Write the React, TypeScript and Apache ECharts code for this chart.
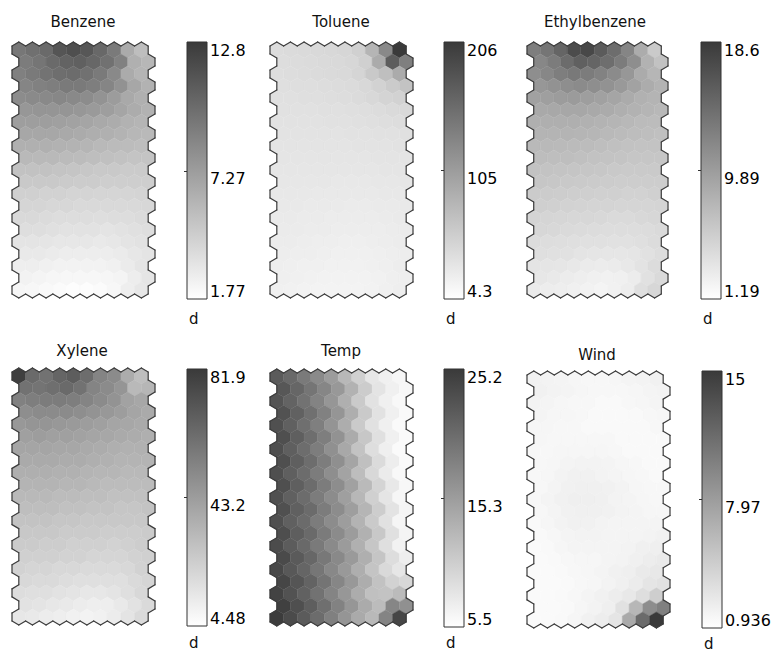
import React, { useEffect, useRef } from "react";
import * as echarts from "echarts";

// ---------- data (SOM component planes, 21 rows x 10 columns, hexagonal lattice) ----------
const titles = ["Benzene", "Toluene", "Ethylbenzene", "Xylene", "Temp", "Wind"];

const benzeneTicks = [1.77, 7.27, 12.8];
const tolueneTicks = [4.3, 105, 206];
const ethylTicks = [1.19, 9.89, 18.6];
const xyleneTicks = [4.48, 43.2, 81.9];
const tempTicks = [5.5, 15.3, 25.2];
const windTicks = [0.936, 7.97, 15];

const benzene = [
  [9.4, 9.8, 10.1, 11.3, 11.6, 11.2, 10.2, 9.2, 6.5, 5.4],
  [9.1, 9.5, 10.1, 10.5, 10.7, 10.3, 9.7, 8.8, 6.2, 5.8],
  [8.9, 9.2, 9.6, 9.9, 10.0, 9.7, 9.2, 8.4, 6.5, 5.9],
  [8.6, 8.8, 9.0, 9.2, 9.2, 9.0, 8.6, 7.9, 6.7, 6.1],
  [8.2, 8.3, 8.4, 8.5, 8.4, 8.2, 7.8, 7.3, 6.6, 6.2],
  [7.6, 7.7, 7.7, 7.7, 7.6, 7.4, 7.2, 6.8, 6.4, 6.1],
  [7.2, 7.2, 7.2, 7.1, 7.0, 6.8, 6.6, 6.4, 6.1, 5.9],
  [6.7, 6.7, 6.7, 6.6, 6.5, 6.3, 6.2, 6.0, 5.8, 5.7],
  [6.2, 6.2, 6.2, 6.1, 6.0, 5.9, 5.7, 5.6, 5.5, 5.4],
  [5.7, 5.7, 5.7, 5.6, 5.5, 5.4, 5.3, 5.2, 5.1, 5.1],
  [5.2, 5.2, 5.2, 5.1, 5.0, 4.9, 4.8, 4.8, 4.7, 4.7],
  [4.8, 4.8, 4.8, 4.7, 4.6, 4.6, 4.5, 4.5, 4.5, 4.5],
  [4.4, 4.4, 4.3, 4.3, 4.2, 4.2, 4.1, 4.1, 4.1, 4.2],
  [4.1, 4.1, 4.0, 4.0, 3.9, 3.9, 3.9, 3.9, 3.9, 4.0],
  [3.9, 3.9, 3.8, 3.7, 3.7, 3.7, 3.6, 3.7, 3.7, 3.8],
  [3.6, 3.6, 3.5, 3.4, 3.4, 3.4, 3.3, 3.4, 3.5, 3.6],
  [3.3, 3.3, 3.2, 3.1, 3.1, 3.1, 3.0, 3.1, 3.3, 3.4],
  [3.0, 3.0, 2.9, 2.8, 2.8, 2.8, 2.8, 2.9, 3.1, 3.3],
  [2.7, 2.7, 2.6, 2.5, 2.5, 2.5, 2.5, 2.6, 2.9, 3.2],
  [2.5, 2.4, 2.3, 2.2, 2.2, 2.2, 2.3, 2.4, 2.8, 3.2],
  [2.3, 2.2, 2.1, 2.0, 1.9, 1.9, 2.0, 2.2, 2.7, 3.1],
];

const toluene = [
  [40, 41, 42, 43, 44, 46, 52, 80, 125, 206],
  [39, 40, 41, 42, 43, 45, 52, 90, 170, 135],
  [38, 39, 40, 41, 42, 43, 47, 60, 70, 90],
  [37, 38, 38, 39, 40, 41, 44, 50, 58, 66],
  [36, 36, 37, 37, 38, 39, 41, 44, 48, 50],
  [35, 35, 35, 36, 36, 37, 38, 40, 42, 43],
  [34, 34, 34, 34, 35, 35, 36, 37, 38, 39],
  [33, 33, 33, 33, 33, 34, 34, 35, 35, 36],
  [32, 32, 32, 32, 32, 32, 33, 33, 33, 34],
  [31, 31, 31, 31, 31, 31, 31, 32, 32, 32],
  [30, 30, 30, 30, 30, 30, 30, 30, 31, 31],
  [29, 29, 29, 29, 28, 28, 28, 29, 29, 30],
  [28, 28, 28, 27, 27, 27, 27, 27, 28, 28],
  [27, 27, 26, 26, 26, 25, 25, 26, 26, 27],
  [26, 26, 25, 25, 24, 24, 24, 24, 25, 26],
  [25, 25, 24, 24, 23, 23, 23, 23, 24, 25],
  [24, 24, 23, 22, 22, 21, 21, 22, 23, 24],
  [23, 22, 22, 21, 20, 20, 20, 21, 22, 23],
  [22, 21, 20, 20, 19, 19, 19, 20, 21, 23],
  [21, 20, 19, 18, 18, 18, 18, 19, 21, 22],
  [20, 19, 18, 17, 17, 17, 17, 18, 20, 22],
];

const ethylbenzene = [
  [12.6, 13.4, 14.8, 17.0, 17.4, 15.7, 14.1, 12.0, 8.5, 5.9],
  [11.8, 12.8, 14.2, 15.2, 14.8, 14.0, 12.8, 11.2, 8.0, 6.6],
  [11.2, 11.8, 12.6, 13.0, 12.8, 12.2, 11.4, 10.4, 8.6, 7.6],
  [10.4, 10.8, 11.2, 11.4, 11.2, 10.8, 10.2, 9.4, 8.5, 7.9],
  [9.5, 9.7, 9.9, 10.0, 9.8, 9.5, 9.1, 8.6, 8.1, 7.8],
  [8.8, 8.9, 9.0, 9.0, 8.8, 8.6, 8.3, 8.0, 7.7, 7.5],
  [8.3, 8.3, 8.3, 8.3, 8.1, 7.9, 7.7, 7.5, 7.2, 7.1],
  [7.8, 7.8, 7.8, 7.7, 7.6, 7.4, 7.2, 7.0, 6.9, 6.8],
  [7.4, 7.4, 7.3, 7.2, 7.1, 6.9, 6.8, 6.6, 6.5, 6.5],
  [7.0, 6.9, 6.9, 6.8, 6.6, 6.5, 6.4, 6.2, 6.2, 6.2],
  [6.6, 6.5, 6.4, 6.3, 6.2, 6.1, 6.0, 5.9, 5.9, 5.9],
  [6.2, 6.1, 6.0, 5.9, 5.8, 5.7, 5.6, 5.6, 5.6, 5.6],
  [5.8, 5.7, 5.6, 5.5, 5.4, 5.3, 5.3, 5.2, 5.2, 5.3],
  [5.4, 5.3, 5.2, 5.1, 5.0, 5.0, 4.9, 4.9, 4.9, 5.0],
  [5.0, 4.9, 4.8, 4.7, 4.7, 4.6, 4.5, 4.5, 4.6, 4.7],
  [4.7, 4.6, 4.5, 4.4, 4.3, 4.2, 4.2, 4.2, 4.3, 4.5],
  [4.3, 4.2, 4.1, 4.0, 3.9, 3.9, 3.8, 3.8, 4.0, 4.3],
  [4.0, 3.9, 3.8, 3.6, 3.5, 3.4, 3.4, 3.5, 3.8, 4.2],
  [3.6, 3.5, 3.4, 3.2, 3.0, 2.9, 3.0, 3.2, 3.7, 4.3],
  [3.3, 3.1, 2.9, 2.7, 2.5, 2.4, 2.5, 2.9, 3.8, 4.5],
  [3.0, 2.8, 2.7, 2.5, 2.3, 2.2, 2.4, 2.8, 4.0, 4.7],
];

const xylene = [
  [80, 63, 60, 65, 68, 62, 53, 50, 37, 30],
  [60, 59, 61, 63, 60, 53, 50, 46, 32, 33],
  [54, 55, 56, 56, 55, 53, 50, 47, 41, 39],
  [49, 50, 50, 50, 49, 47, 45, 43, 40, 38],
  [45, 46, 46, 45, 44, 43, 42, 40, 39, 38],
  [42, 43, 42, 42, 41, 40, 39, 38, 37, 36],
  [40, 40, 40, 39, 39, 38, 37, 36, 35, 35],
  [38, 38, 38, 37, 37, 36, 35, 34, 34, 34],
  [36, 36, 36, 35, 35, 34, 33, 33, 32, 32],
  [34, 34, 34, 33, 33, 32, 31, 31, 31, 31],
  [32, 32, 32, 31, 31, 30, 30, 29, 29, 29],
  [30, 30, 30, 29, 29, 28, 28, 27, 27, 28],
  [28, 28, 28, 27, 27, 26, 26, 26, 26, 26],
  [26, 26, 26, 25, 25, 25, 24, 24, 24, 25],
  [25, 25, 24, 24, 23, 23, 23, 22, 23, 24],
  [23, 23, 23, 22, 22, 21, 21, 21, 22, 23],
  [22, 21, 21, 20, 20, 19, 19, 19, 20, 22],
  [20, 19, 19, 18, 17, 17, 17, 17, 19, 21],
  [18, 17, 17, 16, 15, 14, 14, 15, 17, 20],
  [16, 15, 14, 13, 12, 11, 11, 13, 16, 19],
  [14, 13, 12, 11, 10, 9, 10, 12, 15, 19],
];

const temp = [
  [21.9, 20.5, 18.8, 17.2, 15.4, 12.6, 10.2, 8.0, 7.0, 6.4],
  [22.3, 20.8, 19.3, 17.6, 15.8, 13.2, 10.6, 8.2, 7.0, 6.3],
  [22.6, 21.1, 19.6, 17.9, 16.0, 13.5, 10.8, 8.4, 7.0, 6.2],
  [22.8, 21.3, 19.8, 18.1, 16.1, 13.6, 10.8, 8.4, 7.0, 6.1],
  [23.0, 21.4, 19.9, 18.3, 16.2, 13.7, 10.8, 8.5, 7.0, 6.0],
  [23.1, 21.5, 20.0, 18.4, 16.4, 13.9, 11.1, 8.6, 7.0, 6.0],
  [23.1, 21.5, 20.1, 18.5, 16.6, 14.2, 11.5, 8.8, 7.1, 6.0],
  [23.1, 21.5, 20.1, 18.5, 16.7, 14.5, 11.8, 9.1, 7.3, 6.1],
  [23.1, 21.5, 20.2, 18.6, 16.8, 14.7, 12.1, 9.4, 7.5, 6.2],
  [23.1, 21.5, 20.2, 18.6, 16.9, 14.9, 12.4, 9.8, 7.8, 6.3],
  [23.0, 21.4, 20.2, 18.6, 17.0, 15.1, 12.7, 10.2, 8.1, 6.4],
  [23.0, 21.4, 20.3, 18.6, 17.0, 15.2, 12.9, 10.5, 8.3, 6.5],
  [23.0, 21.4, 20.3, 18.6, 17.0, 15.3, 13.1, 10.8, 8.5, 6.5],
  [23.2, 21.6, 20.4, 18.7, 17.1, 15.4, 13.3, 11.0, 8.6, 6.6],
  [23.4, 21.8, 20.5, 18.8, 17.2, 15.5, 13.4, 11.2, 8.7, 6.8],
  [23.6, 22.0, 20.7, 19.0, 17.3, 15.6, 13.5, 11.3, 8.9, 7.2],
  [23.8, 22.2, 20.9, 19.2, 17.4, 15.7, 13.6, 11.4, 9.3, 8.0],
  [24.0, 22.5, 21.1, 19.4, 17.6, 15.8, 13.7, 11.6, 10.0, 9.5],
  [24.3, 22.8, 21.3, 19.6, 17.8, 15.9, 13.8, 11.8, 11.5, 12.3],
  [24.6, 23.1, 21.6, 19.9, 18.0, 16.0, 13.9, 12.2, 17.6, 16.6],
  [25.0, 23.5, 21.9, 20.2, 18.2, 16.1, 14.0, 12.5, 17.8, 24.0],
];

const wind = [
  [1.9, 1.8, 1.7, 1.6, 1.5, 1.5, 1.6, 1.7, 1.8, 1.9],
  [1.9, 1.8, 1.7, 1.6, 1.5, 1.5, 1.5, 1.6, 1.7, 1.8],
  [1.8, 1.7, 1.6, 1.5, 1.5, 1.4, 1.4, 1.5, 1.6, 1.7],
  [1.7, 1.6, 1.6, 1.5, 1.4, 1.4, 1.4, 1.4, 1.5, 1.6],
  [1.6, 1.6, 1.5, 1.5, 1.4, 1.4, 1.4, 1.4, 1.4, 1.5],
  [1.6, 1.5, 1.5, 1.5, 1.5, 1.5, 1.4, 1.4, 1.4, 1.4],
  [1.5, 1.5, 1.6, 1.6, 1.6, 1.6, 1.5, 1.4, 1.4, 1.4],
  [1.5, 1.6, 1.7, 1.8, 1.8, 1.7, 1.6, 1.5, 1.4, 1.4],
  [1.5, 1.6, 1.8, 1.9, 1.9, 1.8, 1.7, 1.6, 1.5, 1.4],
  [1.5, 1.7, 1.9, 2.0, 2.0, 1.9, 1.8, 1.6, 1.5, 1.5],
  [1.5, 1.7, 1.9, 2.1, 2.1, 2.0, 1.8, 1.7, 1.6, 1.5],
  [1.5, 1.7, 1.9, 2.0, 2.0, 1.9, 1.8, 1.7, 1.6, 1.6],
  [1.4, 1.6, 1.8, 1.9, 1.9, 1.8, 1.7, 1.7, 1.7, 1.7],
  [1.4, 1.5, 1.7, 1.8, 1.8, 1.7, 1.7, 1.7, 1.8, 1.9],
  [1.3, 1.4, 1.6, 1.7, 1.7, 1.7, 1.7, 1.8, 2.0, 2.1],
  [1.3, 1.4, 1.5, 1.6, 1.6, 1.7, 1.8, 2.0, 2.2, 2.4],
  [1.3, 1.3, 1.4, 1.5, 1.6, 1.7, 1.9, 2.1, 2.4, 2.6],
  [1.3, 1.3, 1.4, 1.5, 1.6, 1.8, 2.0, 2.3, 2.8, 3.0],
  [1.3, 1.3, 1.4, 1.5, 1.7, 1.9, 2.2, 2.6, 3.3, 4.4],
  [1.3, 1.3, 1.4, 1.6, 1.8, 2.1, 3.1, 6.1, 9.1, 10.0],
  [1.3, 1.3, 1.4, 1.6, 1.9, 2.2, 2.8, 7.0, 11.5, 15.0],
];

const planes = [benzene, toluene, ethylbenzene, xylene, temp, wind];
const planeTicks = [benzeneTicks, tolueneTicks, ethylTicks, xyleneTicks, tempTicks, windTicks];

// ---------- layout ----------
const layouts = [
  { map: { left: 12, top: 42, width: 143, height: 256 }, bar: { left: 187, top: 42, width: 20, height: 257 }, title: [83, 22], d: [189, 311] },
  { map: { left: 270, top: 42, width: 143, height: 256 }, bar: { left: 444, top: 42, width: 20, height: 257 }, title: [341, 22], d: [446, 311] },
  { map: { left: 527, top: 42, width: 141, height: 256 }, bar: { left: 701, top: 42, width: 20, height: 257 }, title: [595, 22], d: [703, 311] },
  { map: { left: 12, top: 368, width: 143, height: 257 }, bar: { left: 187, top: 369, width: 20, height: 257 }, title: [82, 351], d: [189, 635] },
  { map: { left: 270, top: 369, width: 143, height: 257 }, bar: { left: 444, top: 369, width: 20, height: 258 }, title: [341, 351], d: [446, 635] },
  { map: { left: 527, top: 371, width: 143, height: 257 }, bar: { left: 702, top: 371, width: 20, height: 257 }, title: [597, 355], d: [704, 636] },
];

const ROWS = 21;
const COLS = 10;
const LOW = "#ffffff";
const HIGH = "#3a3a3a";
const FONT = "DejaVu Sans";

const VERTS: number[][] = [
  [0, -0.5],
  [0.5, -0.25],
  [0.5, 0.25],
  [0, 0.5],
  [-0.5, 0.25],
  [-0.5, -0.25],
];

function hexCenter(c: number, r: number) {
  return [c + 0.5 + (r % 2) * 0.5, 0.5 + 0.75 * r];
}

function neighbor(r: number, c: number, edge: number) {
  const odd = r % 2;
  switch (edge) {
    case 0: return [r - 1, c + odd];
    case 1: return [r, c + 1];
    case 2: return [r + 1, c + odd];
    case 3: return [r + 1, c - 1 + odd];
    case 4: return [r, c - 1];
    default: return [r - 1, c - 1 + odd];
  }
}

function inGrid(rc: number[]) {
  return rc[0] >= 0 && rc[0] < ROWS && rc[1] >= 0 && rc[1] < COLS;
}

function buildOption() {
  const grid: any[] = [];
  const xAxis: any[] = [];
  const yAxis: any[] = [];
  const series: any[] = [];
  const visualMap: any[] = [];
  const graphic: any[] = [];

  planes.forEach((plane, i) => {
    const L = layouts[i];
    const ticks = planeTicks[i];
    const min = ticks[0];
    const max = ticks[2];
    const cells: number[][] = [];
    plane.forEach((row, r) => row.forEach((v, c) => cells.push([c, r, v])));

    // map grid
    const gi = grid.length;
    grid.push({ ...L.map, containLabel: false, outerBoundsMode: "none", show: false });
    xAxis.push({ type: "value", gridIndex: gi, min: 0, max: 10.5, show: false });
    yAxis.push({ type: "value", gridIndex: gi, min: 0, max: 16, inverse: true, show: false });

    const hexIndex = series.length;
    series.push({
      type: "custom",
      xAxisIndex: gi,
      yAxisIndex: gi,
      dimensions: ["col", "row", "value"],
      encode: { x: 0, y: 1 },
      data: cells,
      silent: true,
      renderItem: (params: any, api: any) => {
        const c = api.value(0);
        const r = api.value(1);
        const [cx, cy] = hexCenter(c, r);
        const pts = VERTS.map(([dx, dy]) => api.coord([cx + dx, cy + dy]));
        const color = api.visual("color");
        return {
          type: "polygon",
          shape: { points: pts },
          style: { fill: color, stroke: color, lineWidth: 0.4 },
        };
      },
    });
    visualMap.push({
      type: "continuous",
      show: false,
      seriesIndex: hexIndex,
      dimension: 2,
      min,
      max,
      inRange: { color: [LOW, HIGH] },
    });

    // outline of the lattice
    series.push({
      type: "custom",
      xAxisIndex: gi,
      yAxisIndex: gi,
      dimensions: ["col", "row", "value"],
      encode: { x: 0, y: 1 },
      data: cells,
      silent: true,
      z: 5,
      renderItem: (params: any, api: any) => {
        const c = api.value(0);
        const r = api.value(1);
        const [cx, cy] = hexCenter(c, r);
        const children: any[] = [];
        for (let e = 0; e < 6; e++) {
          if (inGrid(neighbor(r, c, e))) continue;
          const a = VERTS[e];
          const b = VERTS[(e + 1) % 6];
          const p1 = api.coord([cx + a[0], cy + a[1]]);
          const p2 = api.coord([cx + b[0], cy + b[1]]);
          children.push({
            type: "line",
            shape: { x1: p1[0], y1: p1[1], x2: p2[0], y2: p2[1] },
            style: { stroke: "#3c3c3c", lineWidth: 1.2, lineCap: "round" },
          });
        }
        return { type: "group", children };
      },
    });

    // colour bar grid
    const bi = grid.length;
    grid.push({ ...L.bar, containLabel: false, outerBoundsMode: "none", show: false });
    xAxis.push({ type: "value", gridIndex: bi, min: 0, max: 1, show: false });
    yAxis.push({
      type: "value",
      gridIndex: bi,
      min,
      max,
      position: "right",
      axisLine: { show: false },
      splitLine: { show: false },
      axisTick: {
        show: true,
        inside: true,
        length: 3,
        customValues: [ticks[1]],
        lineStyle: { color: "#333", width: 1 },
      },
      axisLabel: {
        show: true,
        customValues: ticks,
        margin: 3,
        color: "#000",
        fontSize: 16,
        fontFamily: FONT,
        verticalAlign: "top",
        verticalAlignMinLabel: "bottom",
        verticalAlignMaxLabel: "top",
        formatter: (v: number) => {
          let best = ticks[0];
          ticks.forEach((t) => {
            if (Math.abs(t - v) < Math.abs(best - v)) best = t;
          });
          return String(best);
        },
      },
    });
    series.push({
      type: "custom",
      xAxisIndex: bi,
      yAxisIndex: bi,
      dimensions: ["x0", "x1", "lo", "hi"],
      encode: { x: [0, 1], y: [2, 3] },
      data: [[0, 1, min, max]],
      silent: true,
      renderItem: (params: any, api: any) => {
        const p0 = api.coord([api.value(0), api.value(3)]);
        const p1 = api.coord([api.value(1), api.value(2)]);
        return {
          type: "rect",
          shape: { x: p0[0], y: p0[1], width: p1[0] - p0[0], height: p1[1] - p0[1] },
          style: {
            fill: new echarts.graphic.LinearGradient(0, 0, 0, 1, [
              { offset: 0, color: HIGH },
              { offset: 1, color: LOW },
            ]),
            stroke: "#333",
            lineWidth: 1,
          },
        };
      },
    });

    graphic.push({
      type: "text",
      x: L.title[0],
      y: L.title[1],
      style: {
        text: titles[i],
        fill: "#111",
        font: `15px "${FONT}"`,
        align: "center",
        verticalAlign: "middle",
      },
    });
    graphic.push({
      type: "text",
      x: L.d[0],
      y: L.d[1],
      style: {
        text: "d",
        fill: "#111",
        font: `15px "${FONT}"`,
        align: "left",
        verticalAlign: "top",
      },
    });
  });

  return {
    animation: false,
    backgroundColor: "#ffffff",
    grid,
    xAxis,
    yAxis,
    visualMap,
    series,
    graphic,
  };
}

export default function App() {
  const ref = useRef<HTMLDivElement>(null);
  useEffect(() => {
    if (!ref.current) return;
    const chart = echarts.init(ref.current, undefined, { renderer: "svg" });
    chart.setOption(buildOption() as any);
    return () => chart.dispose();
  }, []);
  return (
    <div
      ref={ref}
      style={{ position: "fixed", left: 0, top: 0, width: 771, height: 654, background: "#fff" }}
    />
  );
}
